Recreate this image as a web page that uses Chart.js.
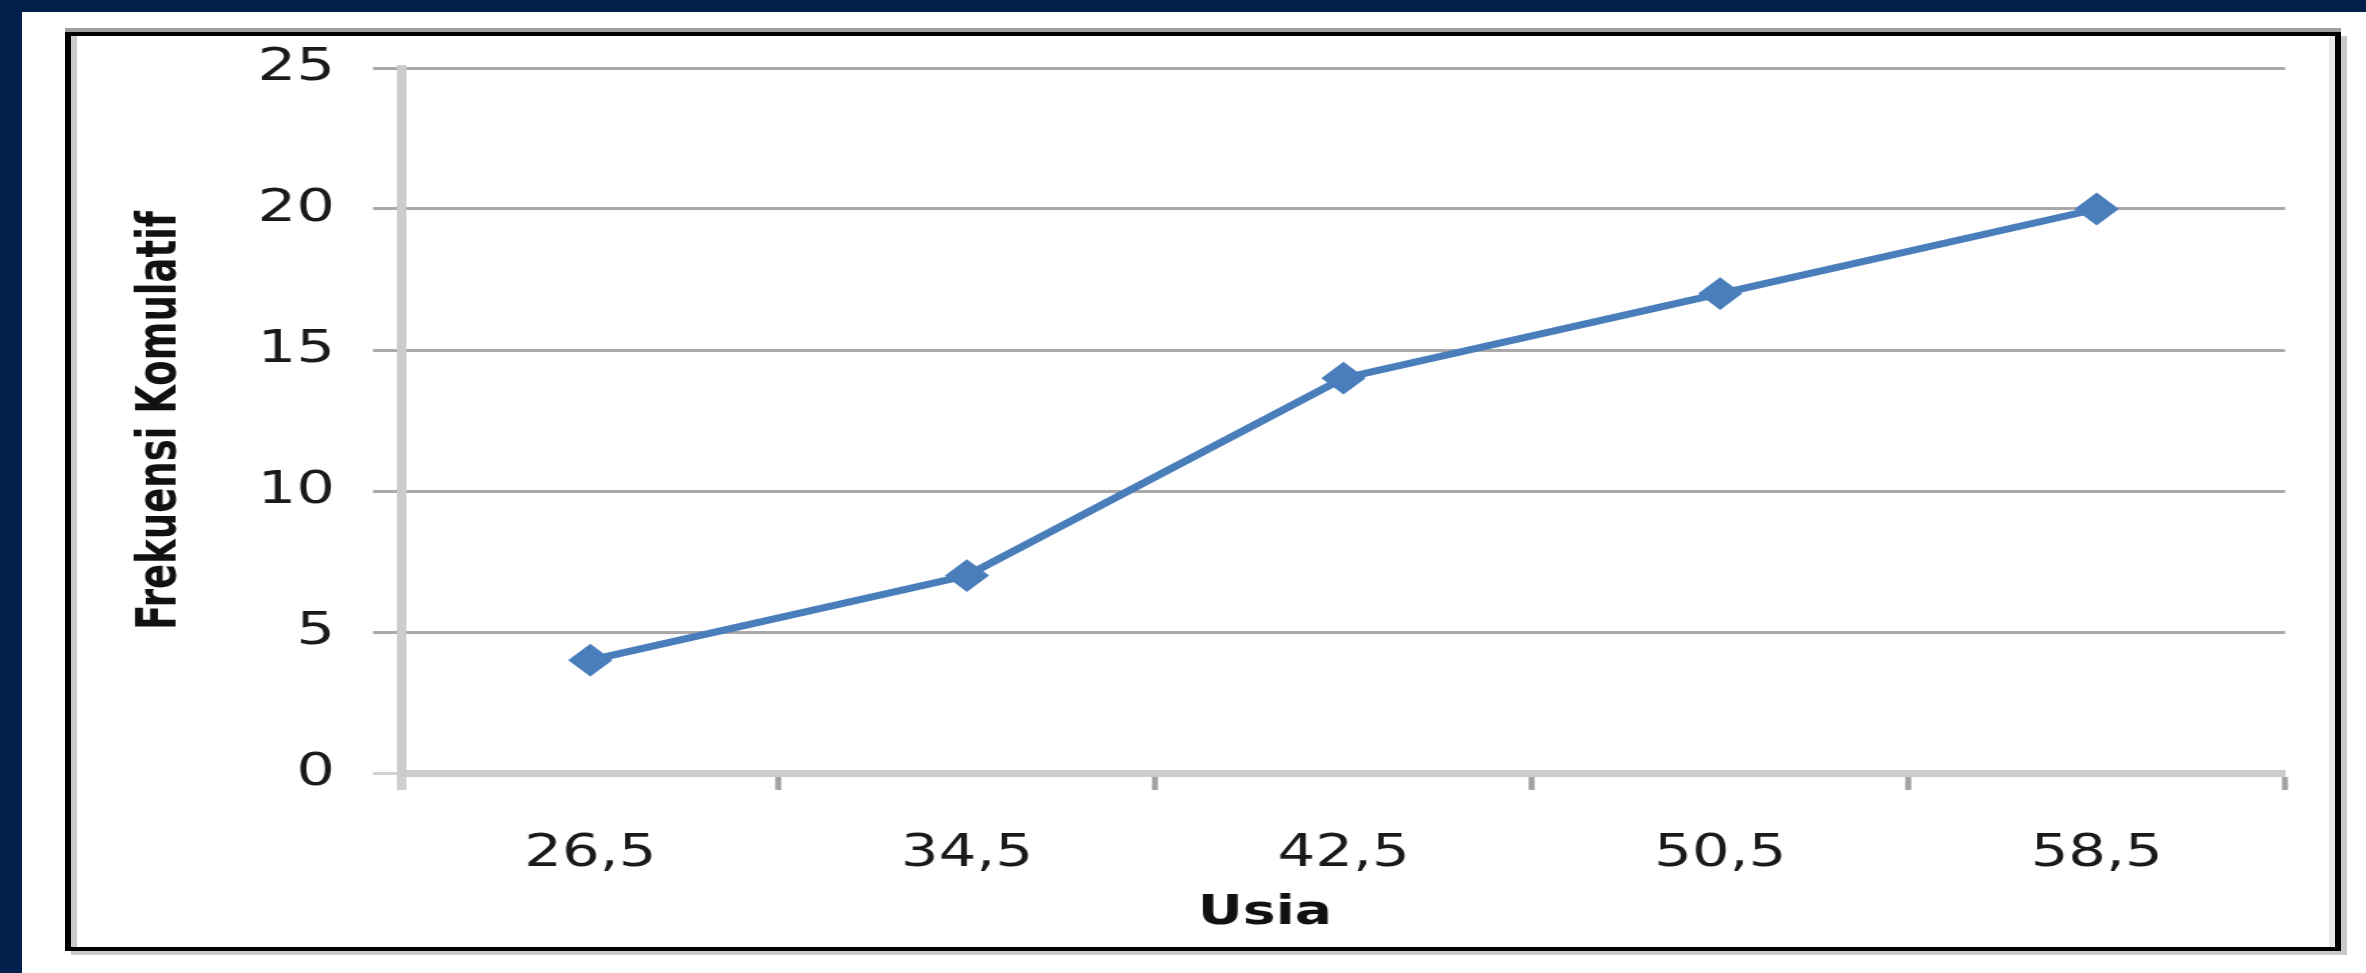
<!DOCTYPE html>
<html>
<head>
<meta charset="utf-8">
<style>
    html, body { margin: 0; padding: 0; width: 2366px; height: 973px; overflow: hidden; background: #fff; }
    #navyTop { position: absolute; left: 0; top: 0; width: 2366px; height: 12px; background: #01204c; }
    #navyLeft { position: absolute; left: 0; top: 0; width: 22px; height: 973px; background: #01204c; }
    #frame {
        position: absolute; left: 65px; top: 32px; width: 2276px; height: 919px; box-sizing: border-box;
        border-style: solid; border-color: #000; border-width: 4px 6px 4px 6px;
        box-shadow: 0 -4px 0 #a0a0a0, 6px 4px 0 #c8c8c8, inset 6px 0 0 #cacaca, inset -6px 0 0 #e8e8e8;
    }
    /* the original picture is stretched sideways, so the chart is drawn narrow and scaled */
    #myChart { position: absolute; left: 0; top: 0; transform: scaleX(1.35); transform-origin: 0 0; }
</style>
<script src="https://cdn.jsdelivr.net/npm/chart.js@4.4.0/dist/chart.umd.min.js"></script>
</head>
<body>
<div id="navyTop"></div>
<div id="navyLeft"></div>
<div id="frame"></div>
<canvas id="myChart" width="1874" height="973"></canvas>

<script>
    var usia = ['26,5', '34,5', '42,5', '50,5', '58,5'];
    var frekuensiKomulatif = [4, 7, 14, 17, 20];
    var yTicks = [0, 5, 10, 15, 20, 25];

    var S = 1.35;            // horizontal stretch
    var canvasW = 1874;
    var plotLeft = 402 / S;
    var plotRight = 2285 / S;

    var numFont = '"DejaVu Sans", Verdana, sans-serif';
    var yTitleFamily = '"Liberation Sans Narrow", "DejaVu Sans Condensed", "Arial Narrow", sans-serif';

    // size the y title so it has the same length as in the picture
    function fitFont(text, weight, family, target) {
        var c = document.createElement('canvas').getContext('2d');
        c.font = weight + ' 100px ' + family;
        return 100 * target / c.measureText(text).width;
    }
    var yTitleSize = fitFont('Frekuensi Komulatif', 'bold', yTitleFamily, 419);

    function xTickColor(c) {
        return (c.index === 0 || c.index === usia.length) ? '#cfcfcf' : '#a2a2a2';
    }
    function xTickWidth(c) {
        return (c.index === 0 || c.index === usia.length) ? 7 : 4.4;
    }

    var ctx = document.getElementById('myChart').getContext('2d');
    var chart = new Chart(ctx, {
        type: 'line',
        data: {
            labels: usia,
            datasets: [{
                data: frekuensiKomulatif,
                yAxisID: 'y',
                borderColor: '#4a7ebb',
                backgroundColor: '#4a7ebb',
                borderWidth: 7,
                pointStyle: 'rectRot',
                pointRadius: 15,
                pointBorderWidth: 2,
                pointBackgroundColor: '#4a7ebb',
                pointBorderColor: '#4a7ebb',
                tension: 0,
                fill: false
            }]
        },
        options: {
            responsive: false,
            animation: false,
            devicePixelRatio: 1,
            layout: { padding: { top: 68, left: 0, right: 0, bottom: 34.8 } },
            plugins: {
                legend: { display: false },
                tooltip: { enabled: false },
                title: {
                    display: true,
                    text: 'Usia',
                    position: 'bottom',
                    color: '#111',
                    font: { family: numFont, size: 41, weight: 'bold', lineHeight: 1.2 },
                    padding: 0
                }
            },
            scales: {
                x: {
                    offset: true,
                    grid: {
                        offset: true,
                        drawOnChartArea: false,
                        drawTicks: true,
                        tickLength: 17,
                        color: '#a2a2a2',
                        tickColor: xTickColor,
                        tickWidth: xTickWidth
                    },
                    border: { color: '#cccccc', width: 7 },
                    ticks: {
                        font: { family: numFont, size: 44 },
                        color: '#1a1a1a',
                        padding: 38,
                        maxRotation: 0,
                        autoSkip: false
                    },
                    afterFit: function(s) { s.height = 889 - 773; }
                },
                y: {
                    position: 'left',
                    min: yTicks[0],
                    max: yTicks[yTicks.length - 1],
                    ticks: {
                        stepSize: yTicks[1] - yTicks[0],
                        font: { family: numFont, size: 45 },
                        color: '#1a1a1a',
                        padding: 28.2
                    },
                    grid: {
                        color: function(c) { return (c.tick && c.tick.value === 0) ? '#d0d0d0' : '#a9a9a9'; },
                        lineWidth: 3,
                        tickLength: 21.5,
                        drawTicks: true
                    },
                    border: { color: '#cccccc', width: 7 },
                    title: {
                        display: true,
                        text: 'Frekuensi Komulatif',
                        color: '#111',
                        font: { family: yTitleFamily, size: yTitleSize, weight: 'bold', lineHeight: 1 },
                        padding: { top: 119.3 - yTitleSize / 2, bottom: 0 }
                    },
                    afterFit: function(s) { s.width = plotLeft; }
                },
                // empty axis on the right, only keeps room so the x title sits where it does in the picture
                y2: {
                    type: 'linear',
                    position: 'right',
                    display: true,
                    grid: { display: false },
                    border: { display: false },
                    ticks: { display: false },
                    afterFit: function(s) { s.width = canvasW - plotRight; }
                }
            }
        }
    });
</script>
</body>
</html>
